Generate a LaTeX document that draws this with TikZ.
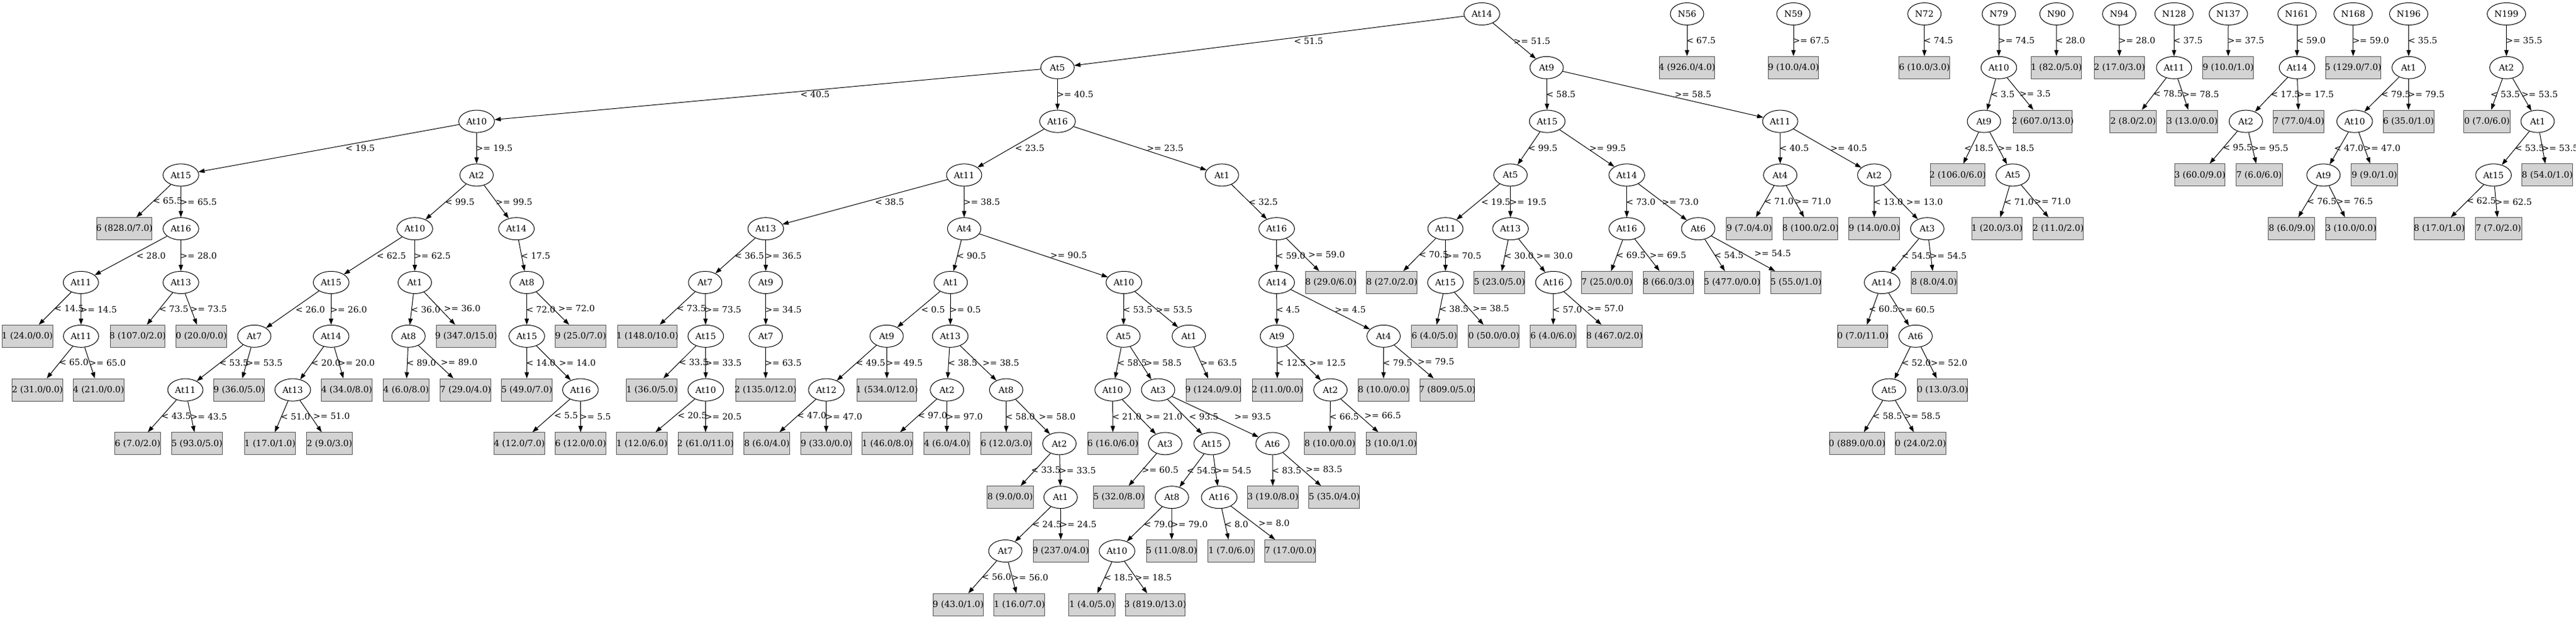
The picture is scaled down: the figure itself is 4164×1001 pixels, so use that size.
\documentclass[tikz,border=0pt]{standalone}
\usepackage{fontspec}
\setmainfont{DejaVu Serif}
\newfontfamily\timesm{Liberation Serif}
\usetikzlibrary{shapes.geometric,arrows.meta}
\definecolor{leaffill}{RGB}{211,211,211}
\definecolor{leafline}{RGB}{85,85,85}
\newsavebox\gvbox
\newcommand\gv[1]{\sbox\gvbox{\timesm #1}\makebox[\wd\gvbox][c]{#1}}
\tikzset{
 gvfont/.style={font=\fontsize{14pt}{16pt}\selectfont},
 dnode/.style={ellipse, draw=black, line width=1pt, minimum width=54pt, minimum height=36pt, inner xsep=6.4pt, inner ysep=2pt, gvfont},
 lnode/.style={rectangle, draw=leafline, fill=leaffill, line width=1pt, minimum height=36pt, inner xsep=8pt, inner ysep=2pt, gvfont},
 edg/.style={draw=black, line width=1pt, -{Triangle[length=10pt,width=7pt]}},
 lb/.style={anchor=west, inner sep=0pt, gvfont, xshift=-1.5pt},
}
\begin{document}
\begin{tikzpicture}[x=1pt,y=-1pt]
\path[use as bounding box, fill=white] (0,0) rectangle (4164,1001);
% ---------- main tree ----------
\node[dnode] (T) at (2395.4,22.5) {\gv{At14}};
\node[dnode] (A5) at (1709.4,109.3) {\gv{At5}};
\node[dnode] (B9) at (2500,109.3) {\gv{At9}};
\node[dnode] (C10) at (770.4,196.1) {\gv{At10}};
\node[dnode] (C16) at (1709.4,196.1) {\gv{At16}};
\node[dnode] (D15) at (292.4,282.9) {\gv{At15}};
\node[dnode] (D2) at (770.4,282.9) {\gv{At2}};
\node[lnode] (L1) at (201,369.7) {\gv{6 (828.0/7.0)}};
\node[dnode] (E16) at (292.4,369.7) {\gv{At16}};
\node[dnode] (F11) at (130.8,456.5) {\gv{At11}};
\node[dnode] (F13) at (292.4,456.5) {\gv{At13}};
\node[lnode] (L2) at (44.2,543.3) {\gv{1 (24.0/0.0)}};
\node[dnode] (G11) at (131,543.3) {\gv{At11}};
\node[lnode] (L3) at (60.5,630.1) {\gv{2 (31.0/0.0)}};
\node[lnode] (L4) at (159.4,630.1) {\gv{4 (21.0/0.0)}};
\node[lnode] (L5) at (222.5,543.3) {\gv{8 (107.0/2.0)}};
\node[lnode] (L6) at (325.4,543.3) {\gv{0 (20.0/0.0)}};
\node[dnode] (E10) at (670.5,369.7) {\gv{At10}};
\node[dnode] (E14) at (834.7,369.7) {\gv{At14}};
\node[dnode] (F15) at (535.3,456.5) {\gv{At15}};
\node[dnode] (F1) at (670.5,456.5) {\gv{At1}};
\node[dnode] (G7) at (411,543.3) {\gv{At7}};
\node[dnode] (G14) at (535.2,543.3) {\gv{At14}};
\node[dnode] (H11) at (299.6,630.1) {\gv{At11}};
\node[lnode] (L7) at (386.4,630.1) {\gv{9 (36.0/5.0)}};
\node[lnode] (L8) at (222.5,716.9) {\gv{6 (7.0/2.0)}};
\node[lnode] (L9) at (318.3,716.9) {\gv{5 (93.0/5.0)}};
\node[dnode] (H13) at (473.2,630.1) {\gv{At13}};
\node[lnode] (L10) at (560.5,630.1) {\gv{4 (34.0/8.0)}};
\node[lnode] (L11) at (436.4,716.9) {\gv{1 (17.0/1.0)}};
\node[lnode] (L12) at (532.6,716.9) {\gv{2 (9.0/3.0)}};
\node[dnode] (G8) at (660.3,543.3) {\gv{At8}};
\node[lnode] (L13) at (753.5,543.3) {\gv{9 (347.0/15.0)}};
\node[lnode] (L14) at (656.5,630.1) {\gv{4 (6.0/8.0)}};
\node[lnode] (L15) at (752.7,630.1) {\gv{7 (29.0/4.0)}};
\node[dnode] (F8) at (851.5,456.5) {\gv{At8}};
\node[dnode] (G15) at (851.5,543.3) {\gv{At15}};
\node[lnode] (L16) at (938.6,543.3) {\gv{9 (25.0/7.0)}};
\node[lnode] (L17) at (851.6,630.1) {\gv{5 (49.0/7.0)}};
\node[dnode] (H16) at (938.3,630.1) {\gv{At16}};
\node[lnode] (L18) at (839.5,716.9) {\gv{4 (12.0/7.0)}};
\node[lnode] (L19) at (938.6,716.9) {\gv{6 (12.0/0.0)}};
\node[dnode] (D11) at (1558.5,282.9) {\gv{At11}};
\node[dnode] (D1) at (1975.2,282.9) {\gv{At1}};
\node[dnode] (E13) at (1237.8,369.7) {\gv{At13}};
\node[dnode] (E4) at (1558.5,369.7) {\gv{At4}};
\node[dnode] (F7) at (1139.8,456.5) {\gv{At7}};
\node[dnode] (F9) at (1237.8,456.5) {\gv{At9}};
\node[lnode] (L20) at (1046.4,543.3) {\gv{1 (148.0/10.0)}};
\node[dnode] (G15b) at (1140.8,543.3) {\gv{At15}};
\node[lnode] (L21) at (1053.6,630.1) {\gv{1 (36.0/5.0)}};
\node[dnode] (H10) at (1140.8,630.1) {\gv{At10}};
\node[lnode] (L22) at (1037.6,716.9) {\gv{1 (12.0/6.0)}};
\node[lnode] (L23) at (1140.4,716.9) {\gv{2 (61.0/11.0)}};
\node[dnode] (G7b) at (1237.8,543.3) {\gv{At7}};
\node[lnode] (L24) at (1237.5,630.1) {\gv{2 (135.0/12.0)}};
\node[dnode] (F1b) at (1536.8,456.5) {\gv{At1}};
\node[dnode] (F10) at (1816.7,456.5) {\gv{At10}};
\node[dnode] (G9) at (1433.2,543.3) {\gv{At9}};
\node[dnode] (G13) at (1536,543.3) {\gv{At13}};
\node[dnode] (H12) at (1335.7,630.1) {\gv{At12}};
\node[lnode] (L25) at (1433.7,630.1) {\gv{1 (534.0/12.0)}};
\node[lnode] (L26) at (1239.5,716.9) {\gv{8 (6.0/4.0)}};
\node[lnode] (L27) at (1335.5,716.9) {\gv{9 (33.0/0.0)}};
\node[dnode] (H2) at (1530.7,630.1) {\gv{At2}};
\node[dnode] (H8) at (1626.4,630.1) {\gv{At8}};
\node[lnode] (L28) at (1434.5,716.9) {\gv{1 (46.0/8.0)}};
\node[lnode] (L29) at (1530.4,716.9) {\gv{4 (6.0/4.0)}};
\node[lnode] (L30) at (1626.5,716.9) {\gv{6 (12.0/3.0)}};
\node[dnode] (I2) at (1712.5,716.9) {\gv{At2}};
\node[lnode] (L31) at (1632.8,803.7) {\gv{8 (9.0/0.0)}};
\node[dnode] (J1) at (1714.4,803.7) {\gv{At1}};
\node[dnode] (K7) at (1625.1,890.5) {\gv{At7}};
\node[lnode] (L32) at (1714.7,890.5) {\gv{9 (237.0/4.0)}};
\node[lnode] (L33) at (1548.9,977.3) {\gv{9 (43.0/1.0)}};
\node[lnode] (L34) at (1647.8,977.3) {\gv{1 (16.0/7.0)}};
\node[dnode] (G5) at (1816,543.3) {\gv{At5}};
\node[dnode] (G1) at (1921.7,543.3) {\gv{At1}};
\node[dnode] (H10b) at (1798.6,630.1) {\gv{At10}};
\node[dnode] (H3) at (1872,630.1) {\gv{At3}};
\node[lnode] (L35) at (1798.9,716.9) {\gv{6 (16.0/6.0)}};
\node[dnode] (I3) at (1883.4,716.9) {\gv{At3}};
\node[lnode] (L36) at (1808.5,803.7) {\gv{5 (32.0/8.0)}};
\node[dnode] (I15) at (1958.7,716.9) {\gv{At15}};
\node[dnode] (I6) at (2056.9,716.9) {\gv{At6}};
\node[dnode] (J8) at (1894.3,803.7) {\gv{At8}};
\node[dnode] (J16) at (1970.8,803.7) {\gv{At16}};
\node[dnode] (K10) at (1805.6,890.5) {\gv{At10}};
\node[lnode] (L37) at (1893.9,890.5) {\gv{5 (11.0/8.0)}};
\node[lnode] (L38) at (1765.1,977.3) {\gv{1 (4.0/5.0)}};
\node[lnode] (L39) at (1867.5,977.3) {\gv{3 (819.0/13.0)}};
\node[lnode] (L40) at (1990,890.5) {\gv{1 (7.0/6.0)}};
\node[lnode] (L41) at (2085.6,890.5) {\gv{7 (17.0/0.0)}};
\node[lnode] (L42) at (2057.5,803.7) {\gv{3 (19.0/8.0)}};
\node[lnode] (L43) at (2156.7,803.7) {\gv{5 (35.0/4.0)}};
\node[lnode] (L44) at (1961.5,630.1) {\gv{9 (124.0/9.0)}};
\node[dnode] (E16b) at (2063.6,369.7) {\gv{At16}};
\node[dnode] (F14) at (2063.6,456.5) {\gv{At14}};
\node[lnode] (L45) at (2151,456.5) {\gv{8 (29.0/6.0)}};
\node[dnode] (G9b) at (2064,543.3) {\gv{At9}};
\node[dnode] (G4) at (2236.5,543.3) {\gv{At4}};
\node[lnode] (L46) at (2064.9,630.1) {\gv{2 (11.0/0.0)}};
\node[dnode] (H2b) at (2150.6,630.1) {\gv{At2}};
\node[lnode] (L47) at (2149.7,716.9) {\gv{8 (10.0/0.0)}};
\node[lnode] (L48) at (2248.9,716.9) {\gv{3 (10.0/1.0)}};
\node[lnode] (L49) at (2236.4,630.1) {\gv{8 (10.0/0.0)}};
\node[lnode] (L50) at (2339.5,630.1) {\gv{7 (809.0/5.0)}};
\node[dnode] (C15) at (2501,196.1) {\gv{At15}};
\node[dnode] (C11) at (2877.6,196.1) {\gv{At11}};
\node[dnode] (D5) at (2441.6,282.9) {\gv{At5}};
\node[dnode] (D14) at (2629.6,282.9) {\gv{At14}};
\node[dnode] (E11) at (2336.5,369.7) {\gv{At11}};
\node[dnode] (E13b) at (2441.6,369.7) {\gv{At13}};
\node[lnode] (L51) at (2249.8,456.5) {\gv{8 (27.0/2.0)}};
\node[dnode] (F15b) at (2336.5,456.5) {\gv{At15}};
\node[lnode] (L52) at (2318.5,543.3) {\gv{6 (4.0/5.0)}};
\node[lnode] (L53) at (2414.7,543.3) {\gv{0 (50.0/0.0)}};
\node[lnode] (L54) at (2423.8,456.5) {\gv{5 (23.0/5.0)}};
\node[dnode] (F16) at (2511,456.5) {\gv{At16}};
\node[lnode] (L55) at (2510.6,543.3) {\gv{6 (4.0/6.0)}};
\node[lnode] (L56) at (2609.7,543.3) {\gv{8 (467.0/2.0)}};
\node[dnode] (E16c) at (2629.6,369.7) {\gv{At16}};
\node[dnode] (E6) at (2745,369.7) {\gv{At6}};
\node[lnode] (L57) at (2597.6,456.5) {\gv{7 (25.0/0.0)}};
\node[lnode] (L58) at (2697,456.5) {\gv{8 (66.0/3.0)}};
\node[lnode] (L59) at (2799.8,456.5) {\gv{5 (477.0/0.0)}};
\node[lnode] (L60) at (2903,456.5) {\gv{5 (55.0/1.0)}};
\node[dnode] (D4) at (2877.6,282.9) {\gv{At4}};
\node[dnode] (D2b) at (3029.6,282.9) {\gv{At2}};
\node[lnode] (L61) at (2827.6,369.7) {\gv{9 (7.0/4.0)}};
\node[lnode] (L62) at (2926.6,369.7) {\gv{8 (100.0/2.0)}};
\node[lnode] (L63) at (3029.6,369.7) {\gv{9 (14.0/0.0)}};
\node[dnode] (E3) at (3115.3,369.7) {\gv{At3}};
\node[dnode] (F14b) at (3042.3,456.5) {\gv{At14}};
\node[lnode] (L64) at (3126.5,456.5) {\gv{8 (8.0/4.0)}};
\node[lnode] (L65) at (3011,543.3) {\gv{0 (7.0/11.0)}};
\node[dnode] (G6) at (3096.4,543.3) {\gv{At6}};
\node[dnode] (H5) at (3053.6,630.1) {\gv{At5}};
\node[lnode] (L66) at (3140,630.1) {\gv{0 (13.0/3.0)}};
\node[lnode] (L67) at (3001.8,716.9) {\gv{0 (889.0/0.0)}};
\node[lnode] (L68) at (3104.6,716.9) {\gv{0 (24.0/2.0)}};
% ---------- separate trees ----------
\node[dnode] (N56) at (2727,22.5) {\gv{N56}};
\node[lnode] (L69) at (2727,109.3) {\gv{4 (926.0/4.0)}};
\node[dnode] (N59) at (2899,22.5) {\gv{N59}};
\node[lnode] (L70) at (2899,109.3) {\gv{9 (10.0/4.0)}};
\node[dnode] (N72) at (3110.7,22.5) {\gv{N72}};
\node[lnode] (L71) at (3110.7,109.3) {\gv{6 (10.0/3.0)}};
\node[dnode] (N79) at (3231,22.5) {\gv{N79}};
\node[dnode] (P10) at (3231,109.3) {\gv{At10}};
\node[dnode] (P9) at (3207,196.1) {\gv{At9}};
\node[lnode] (L72) at (3302,196.1) {\gv{2 (607.0/13.0)}};
\node[lnode] (L73) at (3164.5,282.9) {\gv{2 (106.0/6.0)}};
\node[dnode] (P5) at (3253.5,282.9) {\gv{At5}};
\node[lnode] (L74) at (3228,369.7) {\gv{1 (20.0/3.0)}};
\node[lnode] (L75) at (3327,369.7) {\gv{2 (11.0/2.0)}};
\node[dnode] (N90) at (3324.2,22.5) {\gv{N90}};
\node[lnode] (L76) at (3324,109.3) {\gv{1 (82.0/5.0)}};
\node[dnode] (N94) at (3425.6,22.5) {\gv{N94}};
\node[lnode] (L77) at (3426,109.3) {\gv{2 (17.0/3.0)}};
\node[dnode] (N128) at (3514.2,22.5) {\gv{N128}};
\node[dnode] (Q11) at (3514.2,109.3) {\gv{At11}};
\node[lnode] (L78) at (3448.1,196.1) {\gv{2 (8.0/2.0)}};
\node[lnode] (L79) at (3543.6,196.1) {\gv{3 (13.0/0.0)}};
\node[dnode] (N137) at (3602,22.5) {\gv{N137}};
\node[lnode] (L80) at (3601.8,109.3) {\gv{9 (10.0/1.0)}};
\node[dnode] (N161) at (3713,22.5) {\gv{N161}};
\node[dnode] (R14) at (3713,109.3) {\gv{At14}};
\node[dnode] (R2) at (3630.3,196.1) {\gv{At2}};
\node[lnode] (L81) at (3715.8,196.1) {\gv{7 (77.0/4.0)}};
\node[lnode] (L82) at (3556,282.9) {\gv{3 (60.0/9.0)}};
\node[lnode] (L83) at (3651.6,282.9) {\gv{7 (6.0/6.0)}};
\node[dnode] (N168) at (3803.7,22.5) {\gv{N168}};
\node[lnode] (L84) at (3803.7,109.3) {\gv{5 (129.0/7.0)}};
\node[dnode] (N196) at (3893.5,22.5) {\gv{N196}};
\node[dnode] (S1) at (3893.5,109.3) {\gv{At1}};
\node[dnode] (S10) at (3806.2,196.1) {\gv{At10}};
\node[lnode] (L85) at (3893.2,196.1) {\gv{6 (35.0/1.0)}};
\node[dnode] (S9) at (3755.8,282.9) {\gv{At9}};
\node[lnode] (L86) at (3838.1,282.9) {\gv{9 (9.0/1.0)}};
\node[lnode] (L87) at (3704,369.7) {\gv{8 (6.0/9.0)}};
\node[lnode] (L88) at (3800,369.7) {\gv{3 (10.0/0.0)}};
\node[dnode] (N199) at (4051.5,22.5) {\gv{N199}};
\node[dnode] (U2) at (4051.5,109.3) {\gv{At2}};
\node[lnode] (L89) at (4020.1,196.1) {\gv{0 (7.0/6.0)}};
\node[dnode] (U1) at (4101.9,196.1) {\gv{At1}};
\node[dnode] (U15) at (4030.6,282.9) {\gv{At15}};
\node[lnode] (L90) at (4117.6,282.9) {\gv{8 (54.0/1.0)}};
\node[lnode] (L91) at (3943,369.7) {\gv{8 (17.0/1.0)}};
\node[lnode] (L92) at (4038.6,369.7) {\gv{7 (7.0/2.0)}};
% ---------- edges ----------
\draw[edg] (T) -- node[lb,xshift=41pt]{< 51.5} (A5);
\draw[edg] (T) -- node[lb]{>= 51.5} (B9);
\draw[edg] (A5) -- node[lb,xshift=54pt]{< 40.5} (C10);
\draw[edg] (A5) -- node[lb]{>= 40.5} (C16);
\draw[edg] (C10) -- node[lb,xshift=28pt]{< 19.5} (D15);
\draw[edg] (C10) -- node[lb]{>= 19.5} (D2);
\draw[edg] (D15) -- node[lb]{< 65.5} (L1);
\draw[edg] (D15) -- node[lb]{>= 65.5} (E16);
\draw[edg] (E16) -- node[lb,xshift=10pt]{< 28.0} (F11);
\draw[edg] (E16) -- node[lb]{>= 28.0} (F13);
\draw[edg] (F11) -- node[lb]{< 14.5} (L2);
\draw[edg] (F11) -- node[lb]{>= 14.5} (G11);
\draw[edg] (G11) -- node[lb]{< 65.0} (L3);
\draw[edg] (G11) -- node[lb]{>= 65.0} (L4);
\draw[edg] (F13) -- node[lb]{< 73.5} (L5);
\draw[edg] (F13) -- node[lb]{>= 73.5} (L6);
\draw[edg] (D2) -- node[lb]{< 99.5} (E10);
\draw[edg] (D2) -- node[lb]{>= 99.5} (E14);
\draw[edg] (E10) -- node[lb,xshift=7pt]{< 62.5} (F15);
\draw[edg] (E10) -- node[lb]{>= 62.5} (F1);
\draw[edg] (F15) -- node[lb,xshift=6pt]{< 26.0} (G7);
\draw[edg] (F15) -- node[lb]{>= 26.0} (G14);
\draw[edg] (G7) -- node[lb]{< 53.5} (H11);
\draw[edg] (G7) -- node[lb]{>= 53.5} (L7);
\draw[edg] (H11) -- node[lb]{< 43.5} (L8);
\draw[edg] (H11) -- node[lb]{>= 43.5} (L9);
\draw[edg] (G14) -- node[lb]{< 20.0} (H13);
\draw[edg] (G14) -- node[lb]{>= 20.0} (L10);
\draw[edg] (H13) -- node[lb]{< 51.0} (L11);
\draw[edg] (H13) -- node[lb,xshift=5pt]{>= 51.0} (L12);
\draw[edg] (F1) -- node[lb]{< 36.0} (G8);
\draw[edg] (F1) -- node[lb,xshift=8pt]{>= 36.0} (L13);
\draw[edg] (G8) -- node[lb]{< 89.0} (L14);
\draw[edg] (G8) -- node[lb,xshift=9pt]{>= 89.0} (L15);
\draw[edg] (E14) -- node[lb]{< 17.5} (F8);
\draw[edg] (F8) -- node[lb]{< 72.0} (G15);
\draw[edg] (F8) -- node[lb,xshift=10pt]{>= 72.0} (L16);
\draw[edg] (G15) -- node[lb]{< 14.0} (L17);
\draw[edg] (G15) -- node[lb,xshift=10pt]{>= 14.0} (H16);
\draw[edg] (H16) -- node[lb,xshift=6pt]{< 5.5} (L18);
\draw[edg] (H16) -- node[lb]{>= 5.5} (L19);
\draw[edg] (C16) -- node[lb,xshift=8pt]{< 23.5} (D11);
\draw[edg] (C16) -- node[lb,xshift=12pt]{>= 23.5} (D1);
\draw[edg] (D11) -- node[lb,xshift=17pt]{< 38.5} (E13);
\draw[edg] (D11) -- node[lb]{>= 38.5} (E4);
\draw[edg] (E13) -- node[lb]{< 36.5} (F7);
\draw[edg] (E13) -- node[lb]{>= 36.5} (F9);
\draw[edg] (F7) -- node[lb]{< 73.5} (L20);
\draw[edg] (F7) -- node[lb]{>= 73.5} (G15b);
\draw[edg] (G15b) -- node[lb]{< 33.5} (L21);
\draw[edg] (G15b) -- node[lb]{>= 33.5} (H10);
\draw[edg] (H10) -- node[lb,xshift=5pt]{< 20.5} (L22);
\draw[edg] (H10) -- node[lb]{>= 20.5} (L23);
\draw[edg] (F9) -- node[lb]{>= 34.5} (G7b);
\draw[edg] (G7b) -- node[lb]{>= 63.5} (L24);
\draw[edg] (E4) -- node[lb]{< 90.5} (F1b);
\draw[edg] (E4) -- node[lb,xshift=12pt]{>= 90.5} (F10);
\draw[edg] (F1b) -- node[lb,xshift=5pt]{< 0.5} (G9);
\draw[edg] (F1b) -- node[lb]{>= 0.5} (G13);
\draw[edg] (G9) -- node[lb]{< 49.5} (H12);
\draw[edg] (G9) -- node[lb]{>= 49.5} (L25);
\draw[edg] (H12) -- node[lb]{< 47.0} (L26);
\draw[edg] (H12) -- node[lb]{>= 47.0} (L27);
\draw[edg] (G13) -- node[lb]{< 38.5} (H2);
\draw[edg] (G13) -- node[lb,xshift=8pt]{>= 38.5} (H8);
\draw[edg] (H2) -- node[lb]{< 97.0} (L28);
\draw[edg] (H2) -- node[lb]{>= 97.0} (L29);
\draw[edg] (H8) -- node[lb]{< 58.0} (L30);
\draw[edg] (H8) -- node[lb,xshift=11pt]{>= 58.0} (I2);
\draw[edg] (I2) -- node[lb,xshift=-6pt]{< 33.5} (L31);
\draw[edg] (I2) -- node[lb]{>= 33.5} (J1);
\draw[edg] (J1) -- node[lb]{< 24.5} (K7);
\draw[edg] (J1) -- node[lb]{>= 24.5} (L32);
\draw[edg] (K7) -- node[lb]{< 56.0} (L33);
\draw[edg] (K7) -- node[lb]{>= 56.0} (L34);
\draw[edg] (F10) -- node[lb]{< 53.5} (G5);
\draw[edg] (F10) -- node[lb]{>= 53.5} (G1);
\draw[edg] (G5) -- node[lb]{< 58.5} (H10b);
\draw[edg] (G5) -- node[lb,xshift=8pt]{>= 58.5} (H3);
\draw[edg] (H10b) -- node[lb]{< 21.0} (L35);
\draw[edg] (H10b) -- node[lb,xshift=12pt]{>= 21.0} (I3);
\draw[edg] (I3) -- node[lb]{>= 60.5} (L36);
\draw[edg] (H3) -- node[lb,xshift=8pt]{< 93.5} (I15);
\draw[edg] (H3) -- node[lb,xshift=32pt]{>= 93.5} (I6);
\draw[edg] (I15) -- node[lb,xshift=-7pt]{< 54.5} (J8);
\draw[edg] (I15) -- node[lb]{>= 54.5} (J16);
\draw[edg] (J8) -- node[lb]{< 79.0} (K10);
\draw[edg] (J8) -- node[lb]{>= 79.0} (L37);
\draw[edg] (K10) -- node[lb]{< 18.5} (L38);
\draw[edg] (K10) -- node[lb]{>= 18.5} (L39);
\draw[edg] (J16) -- node[lb]{< 8.0} (L40);
\draw[edg] (J16) -- node[lb,xshift=10pt]{>= 8.0} (L41);
\draw[edg] (I6) -- node[lb]{< 83.5} (L42);
\draw[edg] (I6) -- node[lb,xshift=7pt]{>= 83.5} (L43);
\draw[edg] (G1) -- node[lb]{>= 63.5} (L44);
\draw[edg] (D1) -- node[lb]{< 32.5} (E16b);
\draw[edg] (E16b) -- node[lb]{< 59.0} (F14);
\draw[edg] (E16b) -- node[lb,xshift=10pt]{>= 59.0} (L45);
\draw[edg] (F14) -- node[lb]{< 4.5} (G9b);
\draw[edg] (F14) -- node[lb,xshift=8pt]{>= 4.5} (G4);
\draw[edg] (G9b) -- node[lb]{< 12.5} (L46);
\draw[edg] (G9b) -- node[lb,xshift=10pt]{>= 12.5} (H2b);
\draw[edg] (H2b) -- node[lb]{< 66.5} (L47);
\draw[edg] (H2b) -- node[lb,xshift=9pt]{>= 66.5} (L48);
\draw[edg] (G4) -- node[lb]{< 79.5} (L49);
\draw[edg] (G4) -- node[lb,xshift=7pt]{>= 79.5} (L50);
\draw[edg] (B9) -- node[lb]{< 58.5} (C15);
\draw[edg] (B9) -- node[lb,xshift=20pt]{>= 58.5} (C11);
\draw[edg] (C15) -- node[lb]{< 99.5} (D5);
\draw[edg] (C15) -- node[lb,xshift=5pt]{>= 99.5} (D14);
\draw[edg] (D5) -- node[lb,xshift=6pt]{< 19.5} (E11);
\draw[edg] (D5) -- node[lb]{>= 19.5} (E13b);
\draw[edg] (E11) -- node[lb]{< 70.5} (L51);
\draw[edg] (E11) -- node[lb]{>= 70.5} (F15b);
\draw[edg] (F15b) -- node[lb]{< 38.5} (L52);
\draw[edg] (F15b) -- node[lb,xshift=7pt]{>= 38.5} (L53);
\draw[edg] (E13b) -- node[lb]{< 30.0} (L54);
\draw[edg] (E13b) -- node[lb,xshift=8pt]{>= 30.0} (F16);
\draw[edg] (F16) -- node[lb]{< 57.0} (L55);
\draw[edg] (F16) -- node[lb,xshift=8pt]{>= 57.0} (L56);
\draw[edg] (D14) -- node[lb]{< 73.0} (E16c);
\draw[edg] (D14) -- node[lb]{>= 73.0} (E6);
\draw[edg] (E16c) -- node[lb]{< 69.5} (L57);
\draw[edg] (E16c) -- node[lb,xshift=5pt]{>= 69.5} (L58);
\draw[edg] (E6) -- node[lb]{< 54.5} (L59);
\draw[edg] (E6) -- node[lb,xshift=19pt]{>= 54.5} (L60);
\draw[edg] (C11) -- node[lb]{< 40.5} (D4);
\draw[edg] (C11) -- node[lb,xshift=6pt]{>= 40.5} (D2b);
\draw[edg] (D4) -- node[lb]{< 71.0} (L61);
\draw[edg] (D4) -- node[lb]{>= 71.0} (L62);
\draw[edg] (D2b) -- node[lb]{< 13.0} (L63);
\draw[edg] (D2b) -- node[lb,xshift=10pt]{>= 13.0} (E3);
\draw[edg] (E3) -- node[lb,xshift=-4pt]{< 54.5} (F14b);
\draw[edg] (E3) -- node[lb]{>= 54.5} (L64);
\draw[edg] (F14b) -- node[lb,xshift=-5pt]{< 60.5} (L65);
\draw[edg] (F14b) -- node[lb]{>= 60.5} (G6);
\draw[edg] (G6) -- node[lb]{< 52.0} (H5);
\draw[edg] (G6) -- node[lb,xshift=4pt]{>= 52.0} (L66);
\draw[edg] (H5) -- node[lb]{< 58.5} (L67);
\draw[edg] (H5) -- node[lb]{>= 58.5} (L68);
\draw[edg] (N56) -- node[lb]{< 67.5} (L69);
\draw[edg] (N59) -- node[lb]{>= 67.5} (L70);
\draw[edg] (N72) -- node[lb]{< 74.5} (L71);
\draw[edg] (N79) -- node[lb]{>= 74.5} (P10);
\draw[edg] (P10) -- node[lb]{< 3.5} (P9);
\draw[edg] (P10) -- node[lb]{>= 3.5} (L72);
\draw[edg] (P9) -- node[lb,xshift=-10pt]{< 18.5} (L73);
\draw[edg] (P9) -- node[lb]{>= 18.5} (P5);
\draw[edg] (P5) -- node[lb]{< 71.0} (L74);
\draw[edg] (P5) -- node[lb]{>= 71.0} (L75);
\draw[edg] (N90) -- node[lb]{< 28.0} (L76);
\draw[edg] (N94) -- node[lb]{>= 28.0} (L77);
\draw[edg] (N128) -- node[lb]{< 37.5} (Q11);
\draw[edg] (Q11) -- node[lb]{< 78.5} (L78);
\draw[edg] (Q11) -- node[lb]{>= 78.5} (L79);
\draw[edg] (N137) -- node[lb]{>= 37.5} (L80);
\draw[edg] (N161) -- node[lb]{< 59.0} (R14);
\draw[edg] (R14) -- node[lb]{< 17.5} (R2);
\draw[edg] (R14) -- node[lb]{>= 17.5} (L81);
\draw[edg] (R2) -- node[lb]{< 95.5} (L82);
\draw[edg] (R2) -- node[lb]{>= 95.5} (L83);
\draw[edg] (N168) -- node[lb]{>= 59.0} (L84);
\draw[edg] (N196) -- node[lb]{< 35.5} (S1);
\draw[edg] (S1) -- node[lb]{< 79.5} (S10);
\draw[edg] (S1) -- node[lb]{>= 79.5} (L85);
\draw[edg] (S10) -- node[lb,xshift=-7pt]{< 47.0} (S9);
\draw[edg] (S10) -- node[lb]{>= 47.0} (L86);
\draw[edg] (S9) -- node[lb]{< 76.5} (L87);
\draw[edg] (S9) -- node[lb]{>= 76.5} (L88);
\draw[edg] (N199) -- node[lb]{>= 35.5} (U2);
\draw[edg] (U2) -- node[lb,xshift=-9pt]{< 53.5} (L89);
\draw[edg] (U2) -- node[lb]{>= 53.5} (U1);
\draw[edg] (U1) -- node[lb]{< 53.5} (U15);
\draw[edg] (U1) -- node[lb]{>= 53.5} (L90);
\draw[edg] (U15) -- node[lb]{< 62.5} (L91);
\draw[edg] (U15) -- node[lb]{>= 62.5} (L92);
\end{tikzpicture}
\end{document}
